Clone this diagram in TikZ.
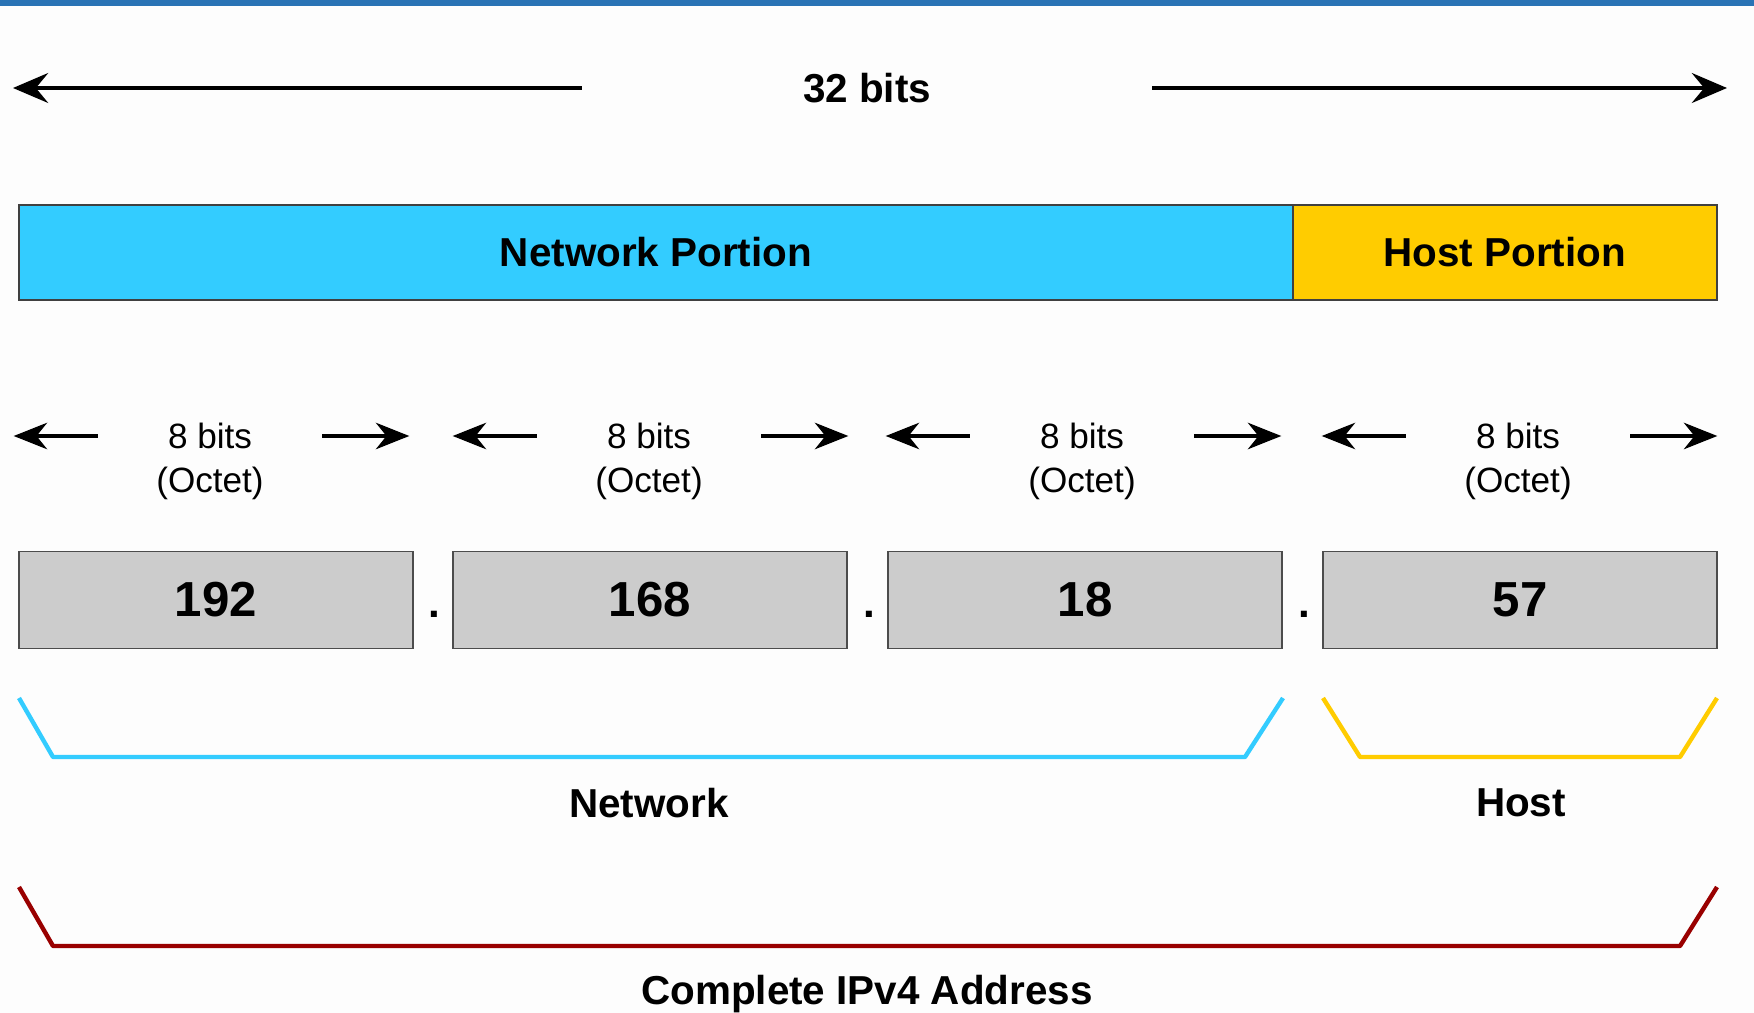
\documentclass[tikz,border=0pt]{standalone}
\usepackage{fontspec}
\setmainfont{Liberation Sans}
\usetikzlibrary{arrows.meta}
\usetikzlibrary{positioning}
\definecolor{netblue}{HTML}{33CCFF}
\definecolor{hostyellow}{HTML}{FFCC00}
\definecolor{octetgray}{HTML}{CCCCCC}
\definecolor{addrred}{HTML}{990000}
\definecolor{topbar}{HTML}{2A73B5}
\definecolor{pagebg}{HTML}{FDFDFD}

\tikzset{
  bigtext/.style={font=\fontsize{23}{27}\selectfont\bfseries},
  octtext/.style={font=\fontsize{20}{24}\selectfont},
  numtext/.style={font=\fontsize{28}{32}\selectfont\bfseries},
  dottext/.style={font=\fontsize{24}{28}\selectfont\bfseries, inner sep=0pt},
  portion/.style={bigtext, draw=black!75, line width=1.1pt, outer sep=0pt, minimum height=1.9cm},
  octbox/.style={numtext, draw=black!70, line width=1.1pt, fill=octetgray, minimum width=7.88cm, minimum height=1.94cm},
  bigarrow/.style={-{Stealth[length=20pt, width=17pt, inset=7pt]}, line width=2.3pt},
  smallarrow/.style={-{Stealth[length=19pt, width=15pt, inset=6pt]}, line width=2.3pt},
  bracket/.style={line width=2.5pt, line join=round}
}

\begin{document}
\begin{tikzpicture}[x=0.02cm, y=-0.02cm]
  \useasboundingbox (0,0) rectangle (1754,1013);
  \fill[pagebg] (0,0) rectangle (1754,1013);
  \fill[topbar] (0,0) rectangle (1754,6);

  \node[bigtext, minimum width=11.4cm] (whole) at (867,88) {32 bits};
  \coordinate (wl) at (13,88);
  \coordinate (wr) at (1727,88);
  \draw[bigarrow] (whole.west) -- (wl);
  \draw[bigarrow] (whole.east) -- (wr);

  \node[portion, fill=netblue, minimum width=25.48cm] (net) at (656,252.5) {Network Portion};
  \node[portion, fill=hostyellow, minimum width=8.48cm, anchor=west] (host) at (net.east) {Host Portion};

  \foreach \n/\x/\v in {1/216/192, 2/650/168, 3/1085/18, 4/1520/57} {
    \node[octbox] (b\n) at (\x,600) {\v};
  }
  \foreach \n/\x in {1/210, 2/649, 3/1082, 4/1518} {
    \node[octtext, minimum width=4.48cm] (bits\n) at (\x,436) {8 bits};
    \node[octtext] (oct\n) at (\x,483) {(Octet)};
    \draw[smallarrow] (bits\n.west) -- ++(-1.68cm,0) coordinate (tl\n);
    \draw[smallarrow] (bits\n.east) -- ++(1.74cm,0) coordinate (tr\n);
  }
  \foreach \i/\x in {1/434, 2/869, 3/1304} {
    \node[dottext] (dot\i) at (\x,614) {.};
  }

  \draw[bracket, draw=netblue] (19,698) -- (53,757) -- (1245,757) -- (1283,698);
  \draw[bracket, draw=hostyellow] (1323,698) -- (1360,757) -- (1680,757) -- (1717,698);
  \draw[bracket, draw=addrred] (19,887) -- (53,946) -- (1680,946) -- (1717,887);

  \node[bigtext] (netlbl) at (649,803) {Network};
  \node[bigtext] (hostlbl) at (1521,803) {Host};
  \node[bigtext] (addrlbl) at (867,994) {Complete IPv4 Address};
\end{tikzpicture}
\end{document}
